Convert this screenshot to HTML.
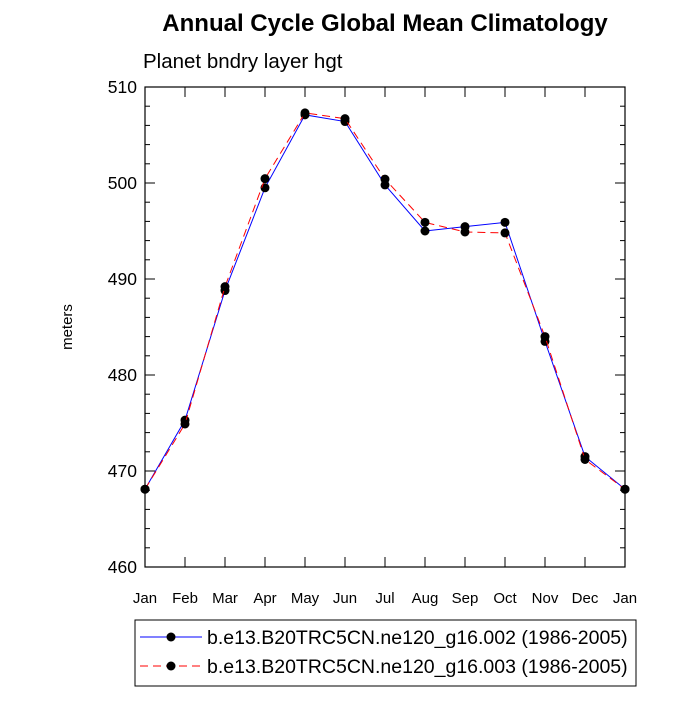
<!DOCTYPE html>
<html><head><meta charset="utf-8"><style>
body{margin:0;background:#fff;}
svg text{font-family:"Liberation Sans",sans-serif;}
</style></head><body>
<svg id="chart" width="700" height="700" viewBox="0 0 700 700">
<text x="385" y="31" text-anchor="middle" font-size="24" font-weight="bold">Annual Cycle Global Mean Climatology</text>
<text x="143" y="68" font-size="20.5">Planet bndry layer hgt</text>
<text transform="translate(72,327) rotate(-90)" text-anchor="middle" font-size="15">meters</text>
<g id="axes"></g>
<g id="series"></g>
<g id="legend">
<rect x="135" y="620" width="501" height="66" fill="#fff" stroke="#000" stroke-width="1"/>
<g>
<line x1="140" y1="637" x2="202" y2="637" stroke="#00f" stroke-width="1"/>
<circle cx="171" cy="637" r="4.5" fill="#000"/>
<text x="207" y="644" font-size="19.5">b.e13.B20TRC5CN.ne120_g16.002 (1986-2005)</text>
</g>
<g>
<line x1="140" y1="666" x2="202" y2="666" stroke="#f00" stroke-width="1" stroke-dasharray="8,5"/>
<circle cx="171" cy="666" r="4.5" fill="#000"/>
<text x="207" y="673" font-size="19.5">b.e13.B20TRC5CN.ne120_g16.003 (1986-2005)</text>
</g>
</g>
</svg>
<script>
const months = ["Jan","Feb","Mar","Apr","May","Jun","Jul","Aug","Sep","Oct","Nov","Dec","Jan"];
const series002 = [468.1,475.3,488.8,499.5,507.1,506.4,499.8,495.0,495.45,495.9,483.5,471.5,468.1];
const series003 = [468.1,474.9,489.2,500.45,507.3,506.7,500.4,495.9,494.9,494.8,484.0,471.2,468.1];
const yTicks = [460,470,480,490,500,510];
const yMin = 460, yMax = 510;
const L=145,R=625,T=87,B=567;
const ns="http://www.w3.org/2000/svg";
function X(i){return L+(R-L)*i/(months.length-1);}
function Y(v){return B-(v-yMin)/(yMax-yMin)*(B-T);}
function mk(tag,attrs,parent){const e=document.createElementNS(ns,tag);for(const k in attrs)e.setAttribute(k,attrs[k]);parent.appendChild(e);return e;}
const ax=document.getElementById('axes');
const frame=mk('rect',{x:L,y:T,width:R-L,height:B-T,fill:'none',stroke:'#000','stroke-width':1.2},ax);


for(let v=yMin;v<=yMax;v+=2){
  const major=(v%10===0);const len=major?10:5;
  mk('line',{x1:L,y1:Y(v),x2:L+len,y2:Y(v),stroke:'#000'},ax);
  mk('line',{x1:R,y1:Y(v),x2:R-len,y2:Y(v),stroke:'#000'},ax);
}
yTicks.forEach(v=>{
  const t=mk('text',{x:L-8,y:Y(v)+6,'text-anchor':'end','font-size':17.5},ax);
  t.textContent=v;
  
  
});
months.forEach((m,i)=>{
  mk('line',{x1:X(i),y1:B,x2:X(i),y2:B-10,stroke:'#000'},ax);
  mk('line',{x1:X(i),y1:T,x2:X(i),y2:T+10,stroke:'#000'},ax);
  const t=mk('text',{x:X(i),y:B+36,'text-anchor':'middle','font-size':15},ax);
  t.textContent=m;
  
  
});
const sg=document.getElementById('series');
function draw(data,color,dash,name){
  const g=mk('g',{},sg);
  
  
  const p=mk('polyline',{points:data.map((v,i)=>X(i)+','+Y(v)).join(' '),fill:'none',stroke:color,'stroke-width':1},g);
  if(dash)p.setAttribute('stroke-dasharray',dash);
  data.forEach((v,i)=>{
    const c=mk('circle',{cx:X(i),cy:Y(v),r:4.5,fill:'#000'},g);
    
    
  });
}
draw(series002,'#00f',null,'series-002');
draw(series003,'#f00','8,5','series-003');
</script>
</body></html>
